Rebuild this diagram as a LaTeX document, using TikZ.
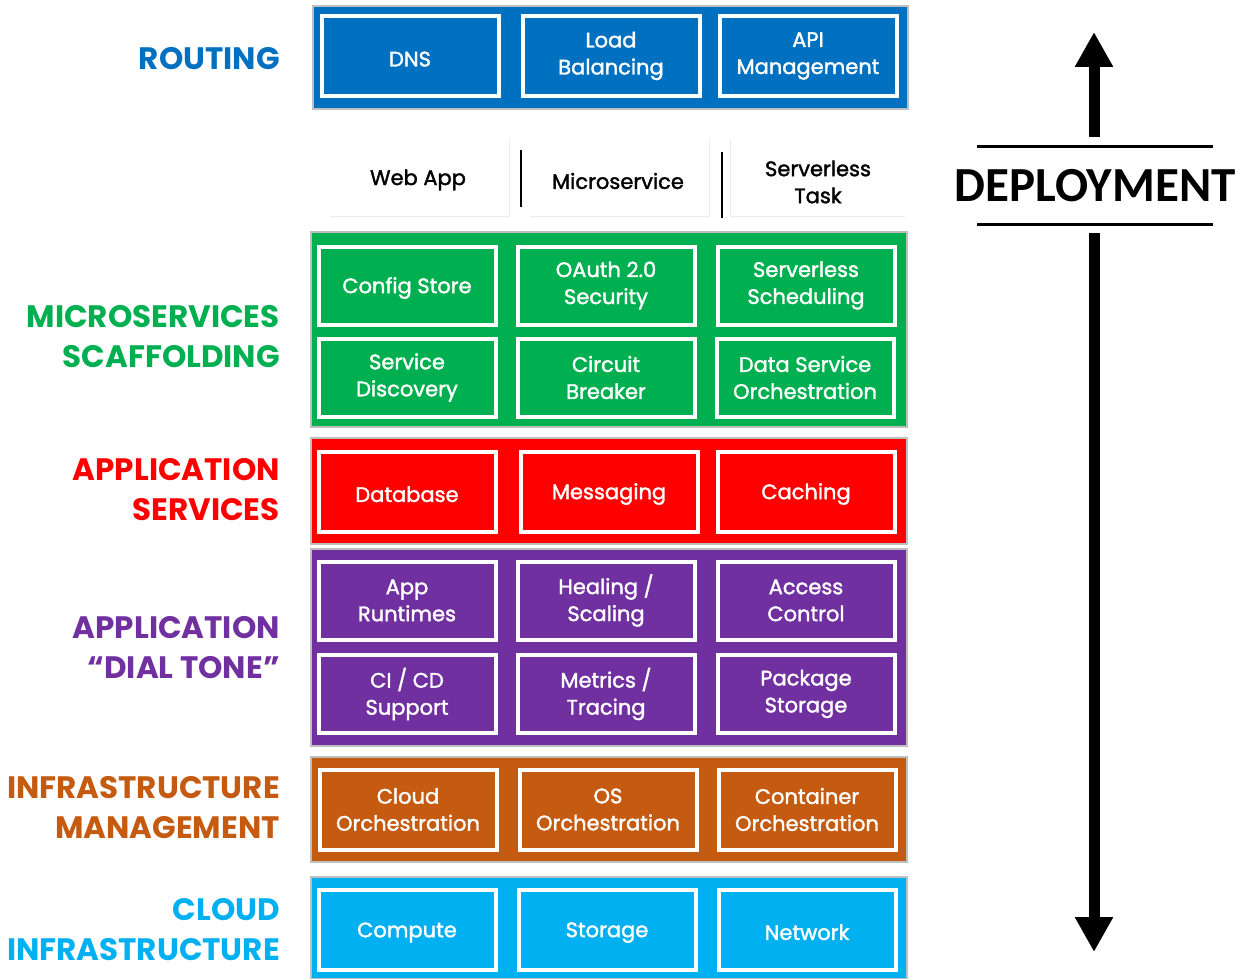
\documentclass[tikz,border=0pt]{standalone}
\usepackage{fontspec}
\setmainfont{Poppins}
\newfontfamily\tilefont{Poppins}[FakeBold=1.6]
\newfontfamily\deployfont{Carlito}
\usetikzlibrary{arrows.meta}

\definecolor{routeblue}{HTML}{0070C0}
\definecolor{msgreen}{HTML}{00B050}
\definecolor{appred}{HTML}{FF0000}
\definecolor{dialpurple}{HTML}{7030A0}
\definecolor{infraorange}{HTML}{C55A11}
\definecolor{cloudblue}{HTML}{00B0F0}

\tikzset{
  band/.style={draw=black!25, line width=2pt},
  tile/.style={draw=white, line width=4pt, text=white, align=center,
    minimum width=177pt, minimum height=78pt, inner sep=0pt,
    font=\tilefont\fontsize{21}{27}\selectfont,
    execute at begin node={\rule{0pt}{21pt}}},
  runtime/.style={align=center, text=black, inner sep=0pt,
    font=\tilefont\fontsize{21}{27}\selectfont},
  layername/.style={anchor=east, align=right, inner sep=0pt,
    font=\fontsize{31}{40}\selectfont\bfseries},
}

\begin{document}
\begin{tikzpicture}[x=1pt,y=-1pt]
  \useasboundingbox (0,0) rectangle (1237,979);

  % layer bands
  \fill[routeblue,band] (313,6) rectangle (908,109);
  \fill[msgreen,band] (311,232) rectangle (907,427);
  \fill[appred,band] (311,438) rectangle (907,544);
  \fill[dialpurple,band] (311,549) rectangle (907,746);
  \fill[infraorange,band] (311,757) rectangle (907,862);
  \fill[cloudblue,band] (311,877) rectangle (907,979);

  % routing
  \node[tile, minimum height=80pt] (dns) at (410,56) {DNS};
  \node[tile, minimum height=80pt] (lb) at (611,56) {Load\\Balancing};
  \node[tile, minimum height=80pt] (api) at (808,56) {API\\Management};

  % runtimes
  \draw[black!8, line width=1pt] (330,216) -- (509,216) -- (509,138);
  \draw[black!8, line width=1pt] (530,216) -- (709,216) -- (709,138);
  \draw[black!8, line width=1pt] (730,216) -- (730,140) (730,216) -- (905,216);
  \node[runtime] (webapp) at (418,180) {Web App};
  \node[runtime] (micro) at (618,181) {Microservice};
  \node[runtime] (serverless) at (818,182) {Serverless\\Task};
  \draw[line width=2pt] (521,150) -- (521,207);
  \draw[line width=2pt] (722,152) -- (722,218);

  % microservices scaffolding
  \node[tile] (config) at (407,285.5) {Config Store};
  \node[tile] (oauth) at (606,285.5) {OAuth 2.0\\Security};
  \node[tile] (sched) at (806,285.5) {Serverless\\Scheduling};
  \node[tile] (discovery) at (407,377.5) {Service\\Discovery};
  \node[tile] (breaker) at (606,377.5) {Circuit\\Breaker};
  \node[tile] (dataorch) at (805,377.5) {Data Service\\Orchestration};

  % application services
  \node[tile, minimum height=80pt] (db) at (407,491.5) {Database};
  \node[tile, minimum height=80pt] (msg) at (609,491.5) {Messaging};
  \node[tile, minimum height=80pt] (cache) at (806,491.5) {Caching};

  % dial tone
  \node[tile] (appruntime) at (407,600.5) {App\\Runtimes};
  \node[tile] (healing) at (606,600.5) {Healing /\\Scaling};
  \node[tile] (access) at (806,600.5) {Access\\Control};
  \node[tile] (cicd) at (407,694) {CI / CD\\Support};
  \node[tile] (metrics) at (606,694) {Metrics /\\Tracing};
  \node[tile] (package) at (806,694) {Package\\Storage};

  % infrastructure management
  \node[tile, minimum height=80pt] (cloudorch) at (408,809.5) {Cloud\\Orchestration};
  \node[tile, minimum height=80pt] (osorch) at (608,809.5) {OS\\Orchestration};
  \node[tile, minimum height=80pt] (contorch) at (807,809.5) {Container\\Orchestration};

  % cloud infrastructure
  \node[tile, minimum height=80pt] (compute) at (407,929.5) {Compute};
  \node[tile, minimum height=80pt] (storage) at (607,929.5) {Storage};
  \node[tile, minimum height=80pt] (network) at (807,929.5) {Network};

  % layer names
  \node[layername, text=routeblue] (routing) at (280,59) {ROUTING};
  \node[layername, text=msgreen] (scaffold) at (280,337) {MICROSERVICES\\SCAFFOLDING};
  \node[layername, text=appred] (appsvc) at (280,490) {APPLICATION\\SERVICES};
  \node[layername, text=dialpurple] (dialtone) at (280,648) {APPLICATION\\“DIAL TONE”};
  \node[layername, text=infraorange] (inframgmt) at (280,808) {INFRASTRUCTURE\\MANAGEMENT};
  \node[layername, text=cloudblue] (cloudinfra) at (280,930) {CLOUD\\INFRASTRUCTURE};

  % deployment axis
  \node[font=\deployfont\fontsize{49}{49}\selectfont\bfseries, inner sep=0pt] (deploy) at (1095,186) {DEPLOYMENT};
  \coordinate (uptop) at (1094,32);
  \coordinate (upbase) at (1094,137);
  \coordinate (downbase) at (1094,233);
  \coordinate (downtip) at (1094,952);
  \draw[line width=3pt] (977,147) -- (1213,147);
  \draw[line width=3pt] (977,224) -- (1213,224);
  \draw[line width=11pt, -{Triangle[width=36pt,length=35pt]}] (upbase) -- (uptop);
  \draw[line width=11pt, -{Triangle[width=36pt,length=35pt]}] (downbase) -- (downtip);
\end{tikzpicture}
\end{document}
